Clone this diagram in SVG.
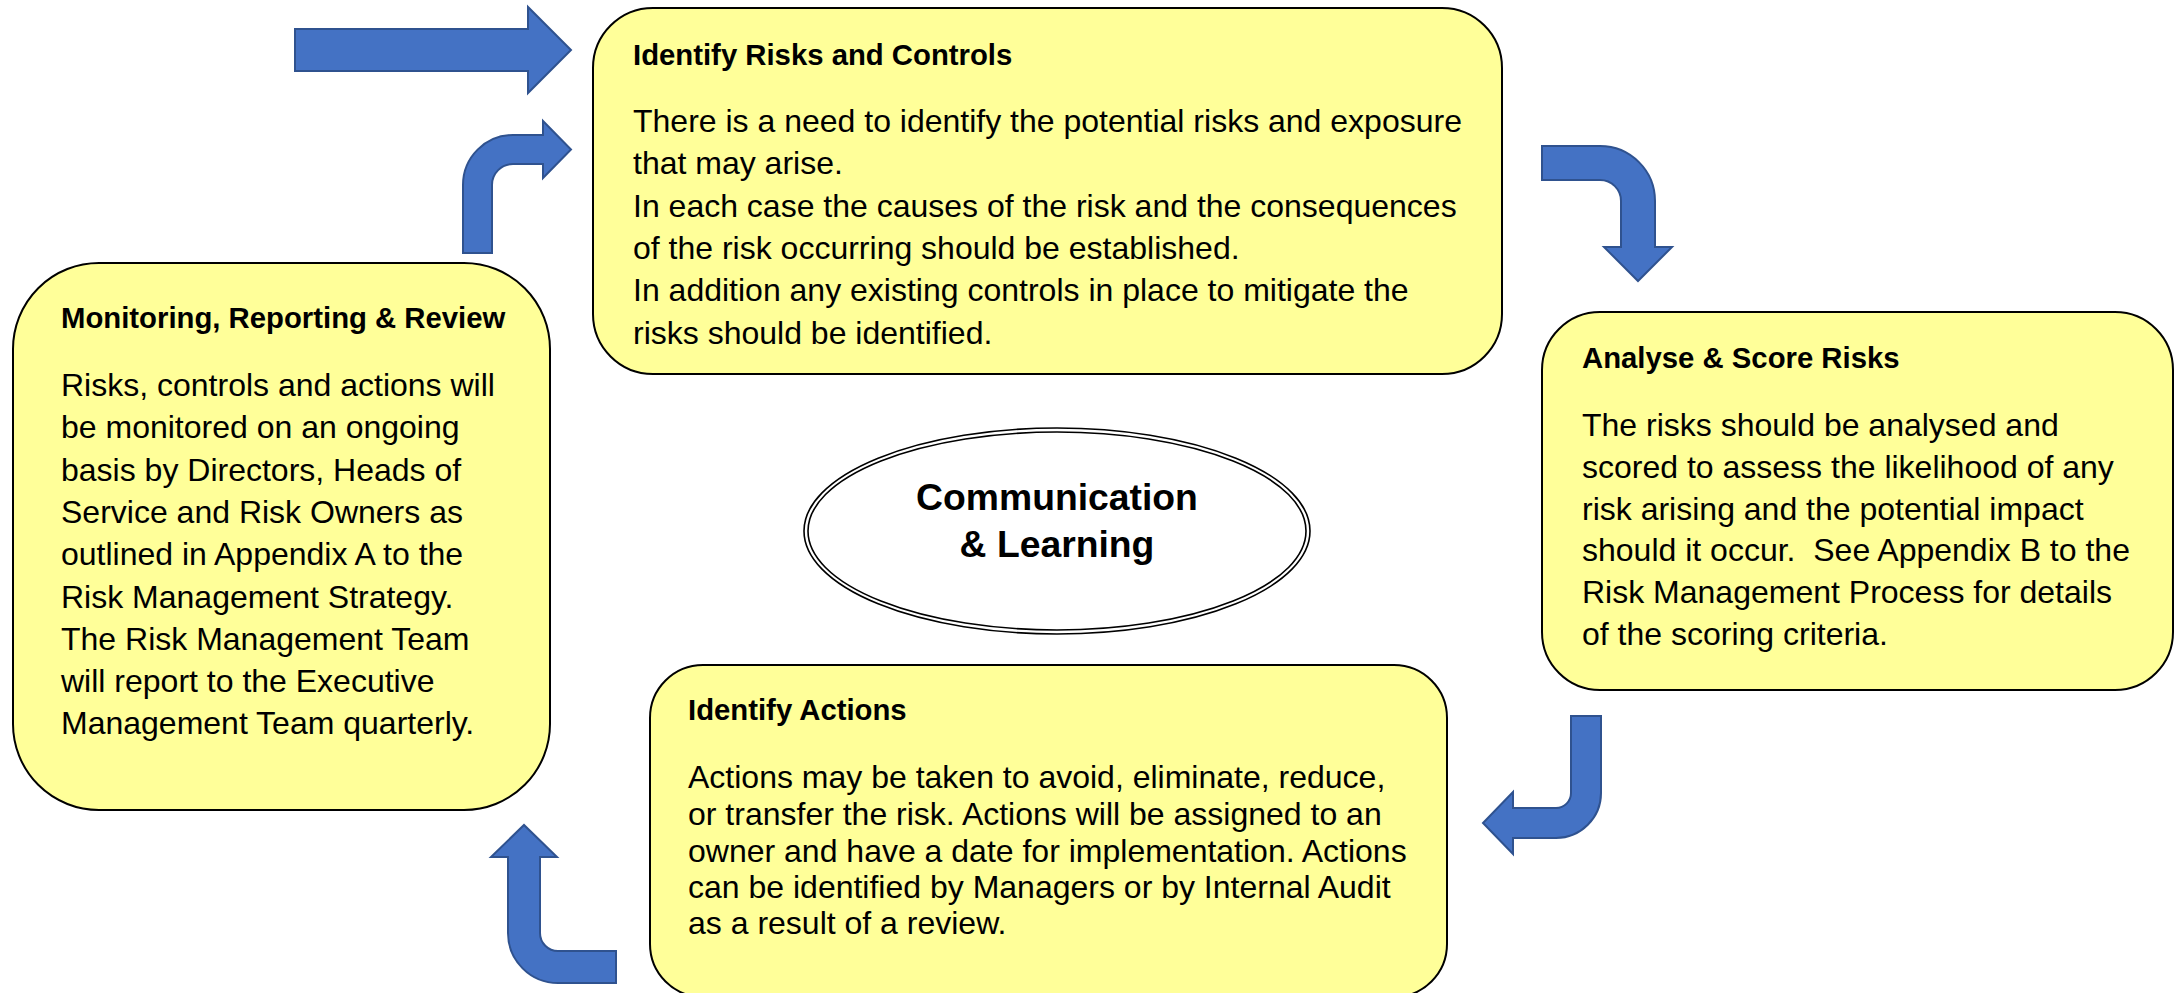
<svg xmlns="http://www.w3.org/2000/svg" width="2174" height="993" viewBox="0 0 2174 993">
  <style>
    .box { fill: #FFFF99; stroke: #000000; stroke-width: 2; }
    .arrow { fill: #4472C4; stroke: #2F528F; stroke-width: 2; stroke-linejoin: miter; }
    .title { font-family: "Liberation Sans", Arial, sans-serif; font-weight: bold; font-size: 29.3px; fill: #000000; }
    .body { font-family: "Liberation Sans", Arial, sans-serif; font-size: 32px; fill: #000000; }
    .hub { font-family: "Liberation Sans", Arial, sans-serif; font-weight: bold; font-size: 37.3px; fill: #000000; text-anchor: middle; }
    .ring { fill: none; stroke: #000000; stroke-width: 1.6; }
  </style>
  <rect width="2174" height="993" fill="#FFFFFF"/>

  <!-- cycle arrows between the stages -->
  <g id="connectors">
    <path class="arrow" d="M295,29 H528 V7 L571,50 L528,93 V71 H295 Z"/>
    <path class="arrow" d="M463,253 V185 A50,50 0 0 1 513,135 H543 V121 L571,149.5 L543,178 V164 H513 A21,21 0 0 0 492,185 V253 Z"/>
    <path class="arrow" d="M1542,146 H1600 A55,55 0 0 1 1655,201 V247 H1672 L1638,281 L1604,247 H1621 V201 A21,21 0 0 0 1600,180 H1542 Z"/>
    <path class="arrow" d="M1571,716 H1601 V793 A45,45 0 0 1 1556,838 H1513 V854 L1483,823 L1513,792 V808 H1556 A15,15 0 0 0 1571,793 Z"/>
    <path class="arrow" d="M616,951 V983 H558 A50,50 0 0 1 508,933 V857 H491 L524,825 L557,857 H540 V933 A18,18 0 0 0 558,951 Z"/>
  </g>

  <g id="identify-risks">
    <rect class="box" x="593" y="8" width="909" height="366" rx="60" ry="60"/>
    <text class="title" x="633" y="65">Identify Risks and Controls</text>
    <text class="body" x="633" y="132">There is a need to identify the potential risks and exposure</text>
    <text class="body" x="633" y="174">that may arise.</text>
    <text class="body" x="633" y="217">In each case the causes of the risk and the consequences</text>
    <text class="body" x="633" y="259">of the risk occurring should be established.</text>
    <text class="body" x="633" y="301">In addition any existing controls in place to mitigate the</text>
    <text class="body" x="633" y="344">risks should be identified.</text>
  </g>

  <g id="analyse-score">
    <rect class="box" x="1542" y="312" width="631" height="378" rx="58" ry="58"/>
    <text class="title" x="1582" y="368">Analyse &amp; Score Risks</text>
    <text class="body" x="1582" y="436">The risks should be analysed and</text>
    <text class="body" x="1582" y="478">scored to assess the likelihood of any</text>
    <text class="body" x="1582" y="520">risk arising and the potential impact</text>
    <text class="body" x="1582" y="561" xml:space="preserve">should it occur.  See Appendix B to the</text>
    <text class="body" x="1582" y="603">Risk Management Process for details</text>
    <text class="body" x="1582" y="645">of the scoring criteria.</text>
  </g>

  <g id="identify-actions">
    <rect class="box" x="650" y="665" width="797" height="332" rx="53" ry="53"/>
    <text class="title" x="688" y="720">Identify Actions</text>
    <text class="body" x="688" y="788">Actions may be taken to avoid, eliminate, reduce,</text>
    <text class="body" x="688" y="825">or transfer the risk. Actions will be assigned to an</text>
    <text class="body" x="688" y="862">owner and have a date for implementation. Actions</text>
    <text class="body" x="688" y="898">can be identified by Managers or by Internal Audit</text>
    <text class="body" x="688" y="934">as a result of a review.</text>
  </g>

  <g id="monitoring-review">
    <rect class="box" x="13" y="263" width="537" height="547" rx="86" ry="86"/>
    <text class="title" x="61" y="328">Monitoring, Reporting &amp; Review</text>
    <text class="body" x="61" y="396">Risks, controls and actions will</text>
    <text class="body" x="61" y="438">be monitored on an ongoing</text>
    <text class="body" x="61" y="481">basis by Directors, Heads of</text>
    <text class="body" x="61" y="523">Service and Risk Owners as</text>
    <text class="body" x="61" y="565">outlined in Appendix A to the</text>
    <text class="body" x="61" y="608">Risk Management Strategy.</text>
    <text class="body" x="61" y="650">The Risk Management Team</text>
    <text class="body" x="61" y="692">will report to the Executive</text>
    <text class="body" x="61" y="734">Management Team quarterly.</text>
  </g>

  <g id="communication-learning">
    <ellipse cx="1057" cy="531" rx="253" ry="103" fill="#FFFFFF" class="ring"/>
    <ellipse cx="1057" cy="531" rx="249" ry="99" class="ring"/>
    <text class="hub" x="1057" y="510">Communication</text>
    <text class="hub" x="1057" y="557">&amp; Learning</text>
  </g>
</svg>
